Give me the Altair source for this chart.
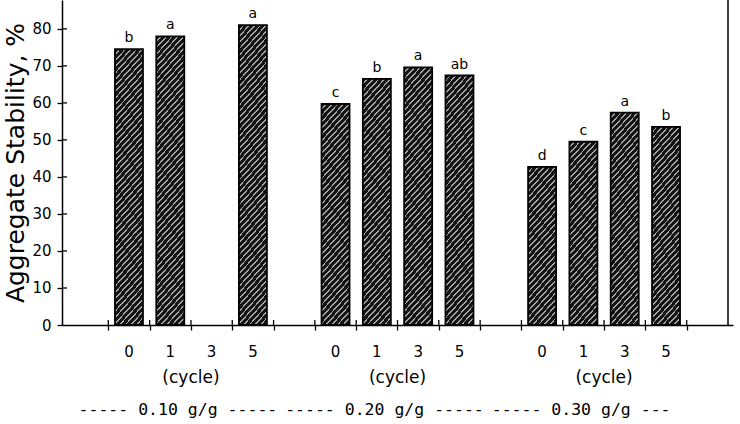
import math
import altair as alt
import pandas as pd

# Aggregate stability (%) after wet-dry cycles at three water contents
groups = ["0.10 g/g", "0.20 g/g", "0.30 g/g"]
cycles = ["0", "1", "3", "5"]
stability = [
    [74.5, 78.0, None, 81.0],
    [59.7, 66.5, 69.6, 67.4],
    [42.7, 49.5, 57.4, 53.5],
]
letters = [
    ["b", "a", "", "a"],
    ["c", "b", "a", "ab"],
    ["d", "c", "a", "b"],
]
legend_text = ["----- 0.10 g/g -----", "----- 0.20 g/g -----", "----- 0.30 g/g ---"]
y_ticks = [0, 10, 20, 30, 40, 50, 60, 70, 80]

SLOTS = 16          # 3 groups x (4 cycles + 1 gap) + leading gap
PLOT_W, PLOT_H = 671, 325
Y_MAX = 87.8
BAR_W = 28
FONT = "DejaVu Sans"

rows = []
for g, grp in enumerate(groups):
    for k, cyc in enumerate(cycles):
        slot = 1 + 5 * g + k
        rows.append({
            "group": grp,
            "cycle": cyc,
            "pos": slot + 0.5,
            "value": stability[g][k],
            "letter": letters[g][k],
        })
df = pd.DataFrame(rows)
bars_df = df.dropna(subset=["value"]).reset_index(drop=True)

group_df = pd.DataFrame({
    "group": groups,
    "center": [3 + 5 * g for g in range(len(groups))],
    "start": [5 * g + 0.28 for g in range(len(groups))],
    "legend": legend_text,
})

xscale = alt.Scale(domain=[0, SLOTS], nice=False, zero=False)
yscale = alt.Scale(domain=[0, Y_MAX], nice=False)


def hatch(value, angle=48, spacing=4.2, dark="#141414", light="#a6a6a6", duty=0.7):
    """Diagonal '/' hatching as a striped linear gradient in the bar's bounding box."""
    w = BAR_W
    h = value / Y_MAX * PLOT_H
    s, c = math.sin(math.radians(angle)), math.cos(math.radians(angle))
    span = w * s + h * c
    k = span / (w * w * s * s + h * h * c * c)
    n = max(1, round(span / spacing))
    stops = []
    for i in range(n):
        a, m, b = i / n, (i + duty) / n, (i + 1) / n
        stops += [
            {"offset": a, "color": dark},
            {"offset": m, "color": dark},
            {"offset": m, "color": light},
            {"offset": b, "color": light},
        ]
    return {"gradient": "linear", "x1": 0, "y1": 0,
            "x2": w * k * s, "y2": h * k * c, "stops": stops}


x_axis = alt.Axis(
    values=list(range(1, SLOTS)), labels=False, title=None, grid=False,
    tickSize=5, tickColor="black", tickWidth=1.3,
    domainColor="black", domainWidth=1.5,
)
y_axis = alt.Axis(
    values=y_ticks, title="Aggregate Stability, %", grid=False,
    tickSize=5, tickColor="black", tickWidth=1.3,
    domainColor="black", domainWidth=1.5,
    labelFont=FONT, labelFontSize=15, labelColor="black", labelPadding=6,
    titleFont=FONT, titleFontSize=25, titleFontWeight="normal",
    titleColor="black", titlePadding=3,
)

# one bar layer per bar so each gets hatching scaled to its own height
bar_layers = []
for i, row in bars_df.iterrows():
    bar_layers.append(
        alt.Chart(bars_df.iloc[[i]]).mark_bar(
            width=BAR_W, fill=hatch(row["value"]), stroke="black", strokeWidth=1.8
        ).encode(
            x=alt.X("pos:Q", scale=xscale, axis=x_axis),
            y=alt.Y("value:Q", scale=yscale, axis=y_axis),
        )
    )

sig = alt.Chart(bars_df).mark_text(
    dy=-11, font=FONT, fontSize=14, color="black"
).encode(
    x=alt.X("pos:Q", scale=xscale, axis=x_axis),
    y=alt.Y("value:Q", scale=yscale, axis=y_axis),
    text="letter:N",
)

# inward halves of the crossing tick marks
y_in = alt.Chart(pd.DataFrame({"value": y_ticks[1:]})).mark_rule(
    color="black", strokeWidth=1.3
).encode(
    x=alt.value(0), x2=alt.value(5),
    y=alt.Y("value:Q", scale=yscale, axis=y_axis),
)
x_in = alt.Chart(pd.DataFrame({"pos": list(range(1, SLOTS))})).mark_rule(
    color="black", strokeWidth=1.3
).encode(
    x=alt.X("pos:Q", scale=xscale, axis=x_axis),
    y=alt.value(PLOT_H - 5), y2=alt.value(PLOT_H),
)
right_edge = alt.Chart(pd.DataFrame({"pos": [SLOTS]})).mark_rule(
    color="black", strokeWidth=1.5
).encode(
    x=alt.X("pos:Q", scale=xscale, axis=x_axis),
    y=alt.value(0), y2=alt.value(PLOT_H),
)

cycle_labels = alt.Chart(df).mark_text(
    font=FONT, fontSize=15, color="black", baseline="middle"
).encode(
    x=alt.X("pos:Q", scale=xscale, axis=x_axis),
    y=alt.value(PLOT_H + 27),
    text="cycle:N",
)
cycle_title = alt.Chart(group_df).mark_text(
    font=FONT, fontSize=17, color="black", baseline="middle", text="(cycle)"
).encode(
    x=alt.X("center:Q", scale=xscale, axis=x_axis),
    y=alt.value(PLOT_H + 53),
)
legend = alt.Chart(group_df).mark_text(
    font="DejaVu Sans Mono", fontSize=16.5, color="black",
    baseline="middle", align="left"
).encode(
    x=alt.X("start:Q", scale=xscale, axis=x_axis),
    y=alt.value(PLOT_H + 85),
    text="legend:N",
)

chart = alt.layer(
    *bar_layers, sig, y_in, x_in, right_edge, cycle_labels, cycle_title, legend
).properties(
    width=PLOT_W, height=PLOT_H,
    autosize=alt.AutoSizeParams(type="none"),
    padding={"left": 62, "right": 7, "top": 0, "bottom": 99},
    background="white",
).configure_view(stroke=None)

chart.save("out.html", embed_options={"renderer": "svg", "actions": False})
